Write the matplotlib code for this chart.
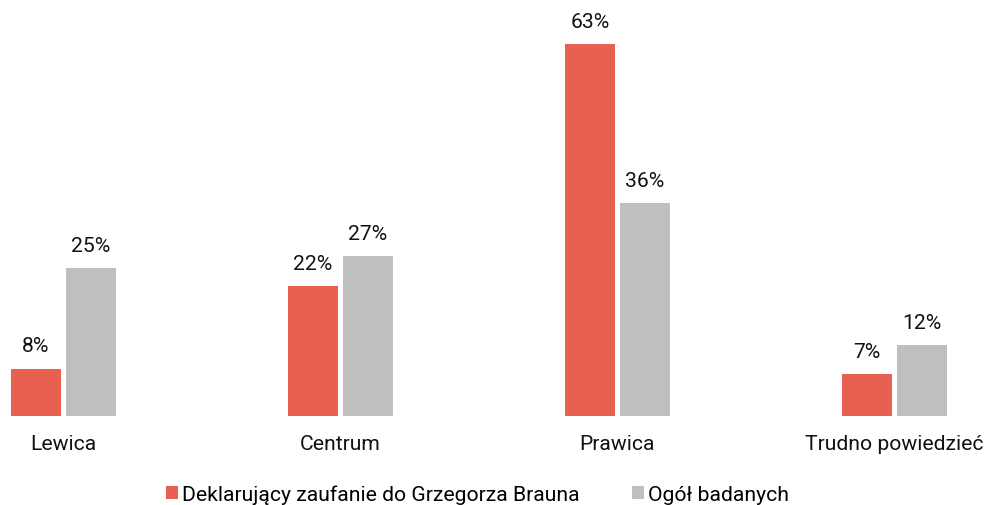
import matplotlib
matplotlib.use("Agg")
import matplotlib.pyplot as plt
import numpy as np
from matplotlib.patches import Patch

categories = ["Lewica", "Centrum", "Prawica", "Trudno powiedzieć"]
series_names = ["Deklarujący zaufanie do Grzegorza Brauna", "Ogół badanych"]
braun = [8, 22, 63, 7]
overall = [25, 27, 36, 12]

RED = "#E8604F"
GRAY = "#BFBFBF"

plt.rcParams['font.family'] = ['Roboto', 'DejaVu Sans']

W, H = 987, 506
fig = plt.figure(figsize=(W / 100, H / 100), dpi=100)
base_px = 416.7
ax = fig.add_axes([0, (H - base_px) / H, 1, base_px / H])

spacing = 277.0
c0 = 63.5
x = np.arange(len(categories))
bw = 50 / spacing
off = 27.5 / spacing

ax.set_xlim(-c0 / spacing, (W - c0) / spacing)
px_per = 5.9
ax.set_ylim(0, base_px / px_per)

b1 = ax.bar(x - off, braun, width=bw, color=RED)
b2 = ax.bar(x + off, overall, width=bw, color=GRAY)

for bars, vals in ((b1, braun), (b2, overall)):
    for rect, v in zip(bars, vals):
        ax.annotate(f"{v}%", (rect.get_x() + rect.get_width() / 2, v),
                    xytext=(0, 12.5), textcoords="offset points",
                    ha="center", va="baseline", fontsize=15.2, color="#111111")

ax.set_xticks(x)
ax.set_xticklabels(categories, fontsize=15.2, color="#111111")
ax.tick_params(axis="x", length=0, pad=13)
ax.set_yticks([])
for s in ax.spines.values():
    s.set_visible(False)

handles = [Patch(facecolor=RED), Patch(facecolor=GRAY)]
fig.legend(handles, series_names, loc="center", bbox_to_anchor=(477.5 / W, 1 - 495 / H),
           ncol=2, frameon=False, fontsize=15.2, handlelength=0.56, handleheight=0.56,
           handletextpad=0.2, columnspacing=2.5, borderaxespad=0, borderpad=0)

fig.savefig("out.png", dpi=100)
